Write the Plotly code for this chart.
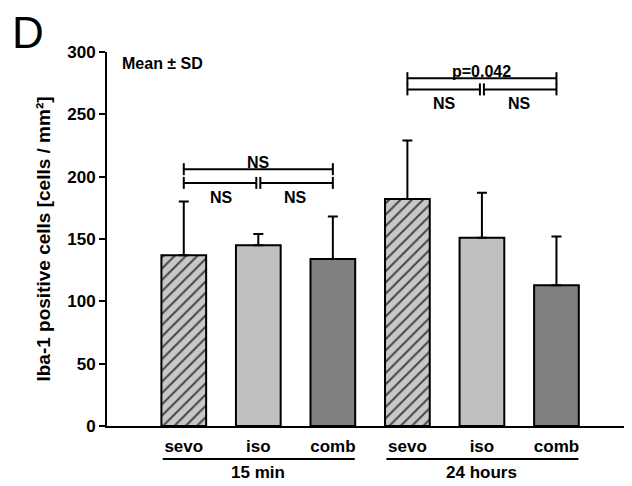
import plotly.graph_objects as go

# ---- data ----
groups = ["15 min", "24 hours"]
agents = ["sevo", "iso", "comb"]
means = [137, 145, 134, 182, 151, 113]
sds = [43, 9, 34, 47, 36, 39]
bar_colors = ["#c8c8c8", "#c0c0c0", "#808080", "#c8c8c8", "#c0c0c0", "#808080"]
bar_shapes = ["/", "", "", "/", "", ""]
y_ticks = [0, 50, 100, 150, 200, 250, 300]

# comparisons per group: (top label, lower-left label, lower-right label, top level, lower level)
comparisons = [
    ("NS", "NS", "NS", 206, 195),
    ("p=0.042", "NS", "NS", 279, 270),
]

FONT = "Arial, Liberation Sans, Helvetica, sans-serif"
PX_PER_UNIT = 74.5

xs = list(range(len(means)))
labels = agents * len(groups)

fig = go.Figure()
fig.add_trace(go.Bar(
    x=xs, y=means, width=0.6,
    marker=dict(
        color=bar_colors,
        line=dict(color="black", width=2),
        pattern=dict(shape=bar_shapes, fgcolor="black", fgopacity=1,
                     size=8, solidity=0.25, fillmode="overlay"),
    ),
    error_y=dict(type="data", symmetric=False, array=sds,
                 arrayminus=[0] * len(sds), color="black", thickness=2, width=5),
    showlegend=False,
))

shapes = []
annotations = []
line_style = dict(color="black", width=2)

for gi, (top_lbl, l_lbl, r_lbl, top_lv, low_lv) in enumerate(comparisons):
    a = gi * 3
    m = gi * 3 + 1
    b = gi * 3 + 2
    shapes.append(dict(type="line", xref="x", yref="y", x0=xs[a], x1=xs[b],
                       y0=top_lv, y1=top_lv, line=line_style))
    for xe in (xs[a], xs[b]):
        shapes.append(dict(type="line", xref="x", yref="y", ysizemode="pixel",
                           yanchor=top_lv, x0=xe, x1=xe, y0=-6, y1=6, line=line_style))
        shapes.append(dict(type="line", xref="x", yref="y", ysizemode="pixel",
                           yanchor=low_lv, x0=xe, x1=xe, y0=-6, y1=6, line=line_style))
    shapes.append(dict(type="line", xref="x", yref="y", xsizemode="pixel", xanchor=xs[m],
                       x0=-(xs[m] - xs[a]) * PX_PER_UNIT, x1=-2, y0=low_lv, y1=low_lv,
                       line=line_style))
    shapes.append(dict(type="line", xref="x", yref="y", xsizemode="pixel", xanchor=xs[m],
                       x0=2, x1=(xs[b] - xs[m]) * PX_PER_UNIT, y0=low_lv, y1=low_lv,
                       line=line_style))
    for dx in (-2, 2):
        shapes.append(dict(type="line", xref="x", yref="y", xsizemode="pixel", ysizemode="pixel",
                           xanchor=xs[m], yanchor=low_lv, x0=dx, x1=dx, y0=-6, y1=6,
                           line=line_style))
    annotations.append(dict(x=(xs[a] + xs[b]) / 2, y=top_lv, xref="x", yref="y",
                            text=top_lbl, showarrow=False, yanchor="bottom", yshift=-4,
                            font=dict(family=FONT, size=16, color="black", weight="bold")))
    annotations.append(dict(x=(xs[a] + xs[m]) / 2, y=low_lv, xref="x", yref="y",
                            text=l_lbl, showarrow=False, yanchor="top", yshift=-4,
                            font=dict(family=FONT, size=16, color="black", weight="bold")))
    annotations.append(dict(x=(xs[m] + xs[b]) / 2, y=low_lv, xref="x", yref="y",
                            text=r_lbl, showarrow=False, yanchor="top", yshift=-4,
                            font=dict(family=FONT, size=16, color="black", weight="bold")))
    shapes.append(dict(type="line", xref="x", yref="paper", xsizemode="pixel", xanchor=xs[a],
                       x0=-21, x1=(xs[b] - xs[a]) * PX_PER_UNIT + 22, y0=-0.088, y1=-0.088,
                       line=line_style))
    annotations.append(dict(x=xs[m], y=-0.123, xref="x", yref="paper", text=groups[gi],
                            showarrow=False, yanchor="middle",
                            font=dict(family=FONT, size=17, color="black", weight="bold")))

annotations.append(dict(x=0.025, y=0.97, xref="paper", yref="paper", text="Mean ± SD",
                        showarrow=False, xanchor="left", yanchor="middle",
                        font=dict(family=FONT, size=16, color="black", weight="bold")))
annotations.append(dict(x=-0.185, y=1.052, xref="paper", yref="paper", text="D",
                        showarrow=False, xanchor="left", yanchor="middle",
                        font=dict(family=FONT, size=44, color="black")))

fig.update_layout(
    width=624, height=478,
    margin=dict(l=99, r=1, t=44, b=60),
    plot_bgcolor="white", paper_bgcolor="white",
    shapes=shapes, annotations=annotations,
    font=dict(family=FONT, color="black"),
    xaxis=dict(range=[-1.03, 6.0], tickvals=xs, ticktext=labels, ticks="",
               showline=True, linecolor="black", linewidth=2, showgrid=False,
               zeroline=False, ticklabelstandoff=4,
               tickfont=dict(family=FONT, size=17, color="black", weight="bold")),
    yaxis=dict(range=[0, 300], tickvals=y_ticks, ticks="outside", ticklen=6, tickwidth=2,
               tickcolor="black", showline=True, linecolor="black", linewidth=2,
               showgrid=False, zeroline=False,
               tickfont=dict(family=FONT, size=17, color="black", weight="bold"),
               title=dict(text="Iba-1 positive cells [cells / mm²]", standoff=12,
                          font=dict(family=FONT, size=19, color="black", weight="bold"))),
)

fig.write_html("out.html")
